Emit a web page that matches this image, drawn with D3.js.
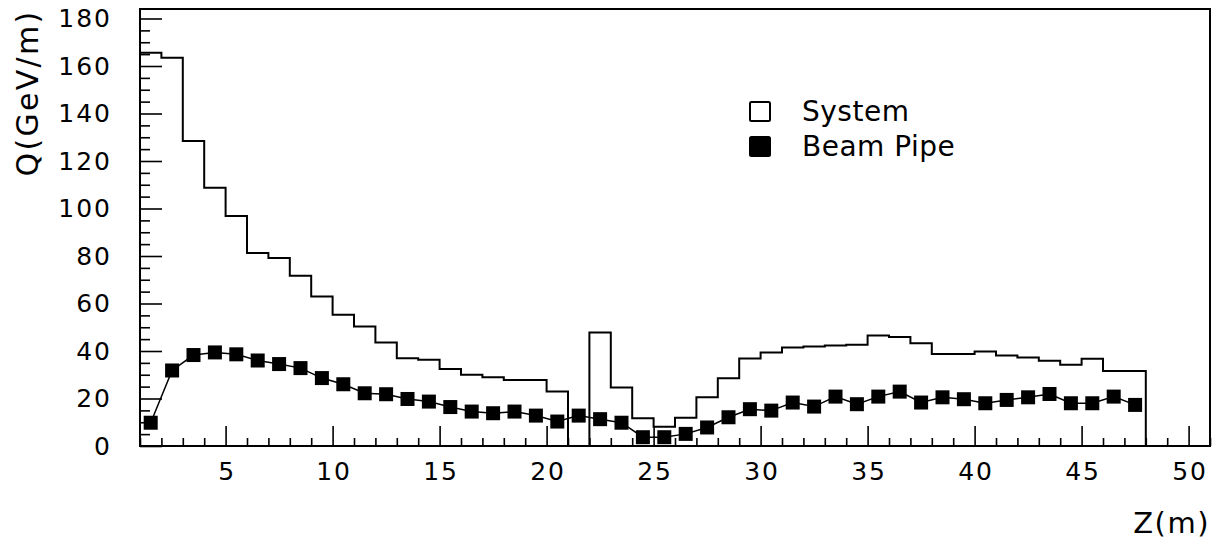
<!DOCTYPE html>
<html>
<head>
<meta charset="utf-8">
<script src="https://cdn.jsdelivr.net/npm/d3@7"></script>
<style>
  html, body { margin: 0; padding: 0; background: #fff; }
  svg { display: block; }
  text { font-family: "DejaVu Sans", sans-serif; fill: #000; }
</style>
</head>
<body>
<svg id="chart" width="1219" height="548"></svg>
<script>
// Left edges of the 1 m bins along the beam line (Z in metres)
const binLow = [1,2,3,4,5,6,7,8,9,10,11,12,13,14,15,16,17,18,19,20,21,22,23,24,
  25,26,27,28,29,30,31,32,33,34,35,36,37,38,39,40,41,42,43,44,45,46,47];
const binWidth = 1;

// Heat load Q (GeV/m) for the whole system, one value per bin
const systemQ = [165.6,163.5,128.4,108.7,96.8,81.3,79.2,71.7,63.0,55.3,50.3,43.6,
  37.0,36.3,32.4,30.0,29.0,27.8,27.8,22.9,0,47.8,24.6,11.7,8.1,11.9,20.5,28.5,
  36.8,39.4,41.5,41.9,42.3,42.6,46.5,45.9,43.3,38.7,38.7,39.8,38.1,37.3,35.9,
  34.2,36.7,31.6,31.6];

// Heat load Q (GeV/m) deposited in the beam pipe, at the bin centres
const beamPipeQ = [9.8,31.8,38.3,39.4,38.6,36.0,34.5,32.8,28.6,26.0,22.2,21.8,
  19.8,18.7,16.4,14.5,13.8,14.5,12.8,10.3,12.8,11.3,9.8,3.7,3.7,5.1,7.8,12.1,
  15.5,14.9,18.3,16.6,20.8,17.6,20.8,22.9,18.3,20.5,19.7,18.0,19.4,20.5,21.9,
  18.0,18.0,20.8,17.3];

const xMajorTicks = [5,10,15,20,25,30,35,40,45,50];
const yMajorTicks = [0,20,40,60,80,100,120,140,160,180];
const xDomain = [1, 51];
const yDomain = [0, 184];

const legendItems = [
  { label: "System", filled: false },
  { label: "Beam Pipe", filled: true }
];

const svg = d3.select("#chart");
const frame = { left: 140, right: 1210, top: 9, bottom: 446 };

const x = d3.scaleLinear().domain(xDomain).range([frame.left, frame.right]);
const y = d3.scaleLinear().domain(yDomain).range([frame.bottom, frame.top]);

// ---- axes (ticks point inwards) ----
const xMinor = d3.range(xDomain[0], xDomain[1] + 1).filter(v => !xMajorTicks.includes(v));
const yMinor = d3.range(0, 181, 5).filter(v => !yMajorTicks.includes(v));

const gx = svg.append("g").attr("transform", `translate(0,${frame.bottom})`);
gx.call(d3.axisBottom(x).tickValues(xMinor).tickSize(-8).tickFormat(""));
gx.append("g").call(d3.axisBottom(x).tickValues(xMajorTicks).tickSize(-20).tickPadding(16).tickFormat(d3.format("d")));
gx.selectAll(".domain").remove();
gx.selectAll("line").attr("stroke", "#000").attr("stroke-width", 1.6);
gx.selectAll("text")
  .attr("font-size", 25).attr("letter-spacing", 2).attr("dx", "1")
  .attr("font-family", "DejaVu Sans, sans-serif").attr("fill", "#000");

const gy = svg.append("g").attr("transform", `translate(${frame.left},0)`);
gy.call(d3.axisLeft(y).tickValues(yMinor).tickSize(-10).tickFormat(""));
gy.append("g").call(d3.axisLeft(y).tickValues(yMajorTicks).tickSize(-22).tickPadding(28).tickFormat(d3.format("d")));
gy.selectAll(".domain").remove();
gy.selectAll("line").attr("stroke", "#000").attr("stroke-width", 1.6);
gy.selectAll("text")
  .attr("font-size", 25).attr("letter-spacing", 2)
  .attr("font-family", "DejaVu Sans, sans-serif").attr("fill", "#000");

// ---- System histogram (step outline) ----
const steps = [{ z: binLow[0], q: 0 }]
  .concat(binLow.map((z, i) => ({ z, q: systemQ[i] })))
  .concat([
    { z: binLow[binLow.length - 1] + binWidth, q: systemQ[systemQ.length - 1] },
    { z: binLow[binLow.length - 1] + binWidth, q: 0 }
  ]);

svg.append("path")
  .datum(steps)
  .attr("fill", "none")
  .attr("stroke", "#000")
  .attr("stroke-width", 2)
  .attr("d", d3.line().x(d => x(d.z)).y(d => y(d.q)).curve(d3.curveStepAfter));

// ---- Beam pipe: connected filled squares ----
const pipe = binLow.map((z, i) => ({ z: z + binWidth / 2, q: beamPipeQ[i] }));

svg.append("path")
  .datum(pipe)
  .attr("fill", "none")
  .attr("stroke", "#000")
  .attr("stroke-width", 1.5)
  .attr("d", d3.line().x(d => x(d.z)).y(d => y(d.q)));

const m = 14;
svg.append("g").selectAll("rect")
  .data(pipe)
  .join("rect")
  .attr("x", d => x(d.z) - m / 2)
  .attr("y", d => y(d.q) - m / 2)
  .attr("width", m)
  .attr("height", m)
  .attr("fill", "#000");

// ---- frame ----
svg.append("rect")
  .attr("x", frame.left).attr("y", frame.top)
  .attr("width", frame.right - frame.left)
  .attr("height", frame.bottom - frame.top)
  .attr("fill", "none").attr("stroke", "#000").attr("stroke-width", 2);

// ---- legend ----
const legend = svg.append("g").attr("transform", "translate(749,101)");
const row = legend.selectAll("g").data(legendItems).join("g")
  .attr("transform", (d, i) => `translate(0,${i * 35})`);
row.append("rect")
  .attr("x", 1).attr("y", 1).attr("width", 20).attr("height", 19)
  .attr("rx", 1.5)
  .attr("fill", d => d.filled ? "#000" : "#fff")
  .attr("stroke", "#000").attr("stroke-width", 2);
row.append("text")
  .attr("x", 53).attr("y", 20)
  .attr("font-size", 28).attr("letter-spacing", 0.5)
  .text(d => d.label);

// ---- axis titles ----
svg.append("text")
  .attr("transform", "translate(38,93) rotate(-90)")
  .attr("text-anchor", "middle")
  .attr("font-size", 30).attr("letter-spacing", 2.3)
  .text("Q(GeV/m)");

svg.append("text")
  .attr("x", 1210).attr("y", 533)
  .attr("text-anchor", "end")
  .attr("font-size", 29).attr("letter-spacing", 1.5)
  .text("Z(m)");
</script>
</body>
</html>
